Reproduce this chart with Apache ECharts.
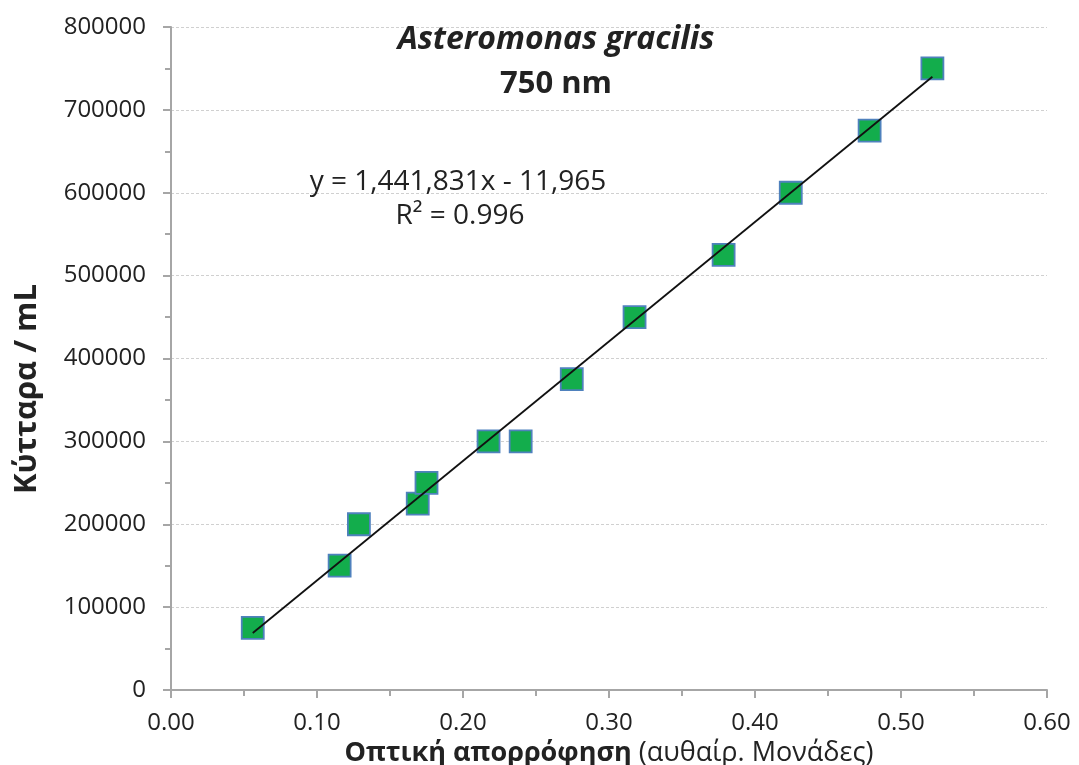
<!DOCTYPE html>
<html>
<head>
<meta charset="utf-8">
<script src="https://cdn.jsdelivr.net/npm/echarts@6/dist/echarts.min.js"></script>
<style>html,body{margin:0;padding:0;background:#fff;}#c{width:1079px;height:765px;}</style>
</head>
<body>
<div id="c"></div>
<script>
// Data
const absorbance = [0.056, 0.1155, 0.1287, 0.169, 0.175, 0.2175, 0.2395, 0.2745, 0.3175, 0.3785, 0.4245, 0.4785, 0.5215];
const cells = [75000, 150000, 200000, 225000, 250000, 300000, 300000, 375000, 450000, 525000, 600000, 675000, 750000];
const trendCoef = [1441831, -11965]; // slope, intercept
const xTicks = [0.00, 0.10, 0.20, 0.30, 0.40, 0.50, 0.60];
const yTicks = [0, 100000, 200000, 300000, 400000, 500000, 600000, 700000, 800000];
const titleLines = ['Asteromonas gracilis', '750 nm'];
const eqLines = ['y = 1,441,831x - 11,965', 'R² = 0.996'];
const yAxisTitle = 'Κύτταρα / mL';
const xAxisTitle = ['Οπτική απορρόφηση', '(αυθαίρ. Μονάδες)'];

const pts = absorbance.map((x, i) => [x, cells[i]]);
const xMin = Math.min(...absorbance), xMax = Math.max(...absorbance);
const trend = [xMin, xMax].map(x => [x, trendCoef[0] * x + trendCoef[1]]);

const FONT = 'Open Sans';
const TXT = '#222222';
const chart = echarts.init(document.getElementById('c'));
chart.setOption({
  animation: false,
  backgroundColor: '#ffffff',
  textStyle: { fontFamily: FONT },
  grid: { left: 171, right: 32, top: 27, bottom: 75, containLabel: false, outerBoundsMode: 'none' },
  title: [
    { text: titleLines[0], left: 551, top: 19, textAlign: 'center',
      textStyle: { fontFamily: FONT, fontSize: 32, fontWeight: 'bold', fontStyle: 'italic', color: TXT } },
    { text: titleLines[1], left: 551, top: 64, textAlign: 'center',
      textStyle: { fontFamily: FONT, fontSize: 31, fontWeight: 'bold', color: TXT } },
    { text: eqLines[0], left: 453, top: 163, textAlign: 'center',
      textStyle: { fontFamily: FONT, fontSize: 28, fontWeight: 'normal', color: TXT } },
    { text: eqLines[1], left: 455, top: 197, textAlign: 'center',
      textStyle: { fontFamily: FONT, fontSize: 28, fontWeight: 'normal', color: TXT } }
  ],
  graphic: [
    { type: 'text', x: 27, y: 389, rotation: Math.PI / 2, z: 10,
      style: { text: yAxisTitle, fontFamily: FONT, fontSize: 31, fontWeight: 'bold', fill: TXT,
        align: 'center', verticalAlign: 'middle' } }
  ],
  xAxis: {
    type: 'value', min: 0, max: 0.6, interval: 0.1,
    name: '{b|' + xAxisTitle[0] + '\u00a0}{n|' + xAxisTitle[1] + '}',
    nameLocation: 'middle', nameGap: 49,
    nameTextStyle: { rich: {
      b: { fontFamily: FONT, fontSize: 27, fontWeight: 'bold', color: TXT },
      n: { fontFamily: FONT, fontSize: 27, color: TXT } } },
    axisLine: { show: true, lineStyle: { color: '#a6a6a6', width: 2 } },
    axisTick: { show: true, length: 8, lineStyle: { color: '#a6a6a6', width: 2 } },
    minorTick: { show: true, splitNumber: 2, length: 6, lineStyle: { color: '#a6a6a6', width: 2 } },
    splitLine: { show: false },
    axisLabel: { fontFamily: FONT, fontSize: 24, color: TXT, margin: 21,
      formatter: v => (xTicks.find(t => Math.abs(t - v) < 1e-9) ?? v).toFixed(2) }
  },
  yAxis: {
    type: 'value', min: 0, max: 800000, interval: 100000,
    axisLine: { show: true, lineStyle: { color: '#a6a6a6', width: 2 } },
    axisTick: { show: true, length: 8, lineStyle: { color: '#a6a6a6', width: 2 } },
    minorTick: { show: true, splitNumber: 2, length: 6, lineStyle: { color: '#a6a6a6', width: 2 } },
    splitLine: { show: true, lineStyle: { color: '#d0d0d0', type: [3, 2], width: 1 } },
    axisLabel: { fontFamily: FONT, fontSize: 24, color: TXT, margin: 25,
      formatter: v => String(yTicks.find(t => t === v) ?? v) }
  },
  series: [
    { type: 'scatter', data: pts, symbol: 'rect', symbolSize: 22, z: 2,
      itemStyle: { color: '#13ad4c', borderColor: '#4f81bd', borderWidth: 1.8, opacity: 1 } },
    { type: 'line', data: trend, symbol: 'none', z: 3,
      lineStyle: { color: '#111111', width: 1.8 } }
  ]
});
</script>
</body>
</html>
